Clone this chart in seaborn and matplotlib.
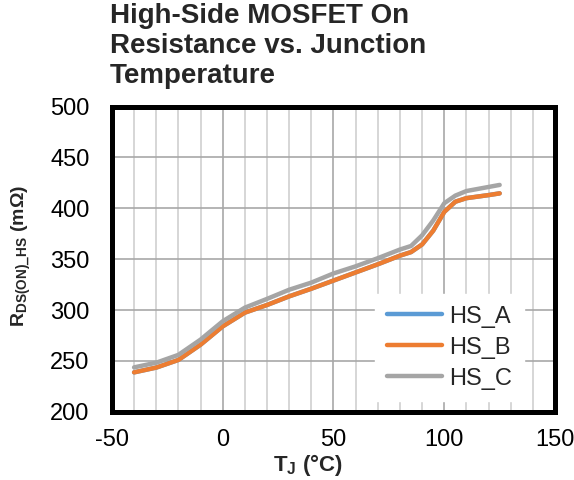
import matplotlib
matplotlib.use("Agg")
import matplotlib.pyplot as plt
import seaborn as sns
import pandas as pd
from matplotlib.ticker import MultipleLocator

temps = [-40, -30, -20, -10, 0, 10, 20, 30, 40, 50, 60, 70, 80, 85, 90, 95, 100, 105, 110, 120, 125]
hs_a = [238.8, 243.5, 251, 266, 284, 297.5, 305, 313.5, 321, 329, 337, 345, 353.5, 357, 364.5, 378, 396.5, 406.5, 410, 413, 414.7]
hs_b = [238.8, 243.5, 251, 266, 284, 297.5, 305, 313.5, 321, 329, 337, 345, 353.5, 357, 364.5, 378, 396.5, 406.5, 410, 413, 414.7]
hs_c = [243.7, 248.3, 256, 271, 289, 302.4, 311, 320, 327, 336, 343, 351, 359.5, 363, 373.5, 388, 405, 412.5, 417, 421, 423]
series_names = ["HS_A", "HS_B", "HS_C"]
colors = ["#5B9BD5", "#ED7D31", "#A5A5A5"]

df = pd.DataFrame({
    "T": temps * 3,
    "R": hs_a + hs_b + hs_c,
    "series": [s for s in series_names for _ in temps],
})

sns.set_style("white")
plt.rcParams["font.family"] = ["Liberation Sans", "DejaVu Sans"]
plt.rcParams["mathtext.fontset"] = "custom"
plt.rcParams["mathtext.rm"] = "Liberation Sans"
plt.rcParams["mathtext.bf"] = "Liberation Sans:bold"
plt.rcParams["axes.unicode_minus"] = False

fig = plt.figure(figsize=(5.74, 4.80), dpi=100)
ax = fig.add_axes([0.195, 0.142, 0.772, 0.636])

sns.lineplot(data=df, x="T", y="R", hue="series", palette=colors, ax=ax,
             linewidth=3.2, legend=True, zorder=3)

ax.set_xlim(-50, 150)
ax.set_ylim(200, 500)
ax.xaxis.set_major_locator(MultipleLocator(50))
ax.xaxis.set_minor_locator(MultipleLocator(10))
ax.yaxis.set_major_locator(MultipleLocator(50))
ax.grid(which="minor", axis="x", color="#D0D0D0", linewidth=1.2)
ax.grid(which="major", axis="x", color="#A8A8A8", linewidth=1.2)
ax.grid(which="major", axis="y", color="#A8A8A8", linewidth=1.2)
ax.set_axisbelow(True)
ax.tick_params(which="both", length=0, labelsize=17, colors="black")
ax.tick_params(axis="x", pad=12)
ax.tick_params(axis="y", pad=16)

for sp in ax.spines.values():
    sp.set_visible(True)
    sp.set_color("black")
    sp.set_linewidth(3.6)

ax.set_xlabel(r"$\mathbf{T_J}$ (°C)", fontsize=16, fontweight="bold", labelpad=1)
ax.xaxis.label.set_x(0.442)
ax.set_ylabel(r"$\mathbf{R_{DS(ON)\_HS}}$ (mΩ)", fontsize=14, fontweight="bold")
ax.yaxis.set_label_coords(-0.178, 0.51)

leg = ax.legend(loc="lower right", bbox_to_anchor=(0.930, 0.034), borderaxespad=0,
                frameon=True, fontsize=17, handlelength=2.35, handletextpad=0.3,
                labelspacing=0.38, borderpad=0.5, fancybox=False)
leg.get_frame().set_facecolor("white")
leg.get_frame().set_edgecolor("white")
leg.get_frame().set_alpha(1)
for line in leg.get_lines():
    line.set_linewidth(3.2)

fig.text(0.192, 0.994, "High-Side MOSFET On\nResistance vs. Junction\nTemperature",
         ha="left", va="top", fontsize=20, fontweight="bold", linespacing=1.2)

fig.savefig("out.png", dpi=100)
